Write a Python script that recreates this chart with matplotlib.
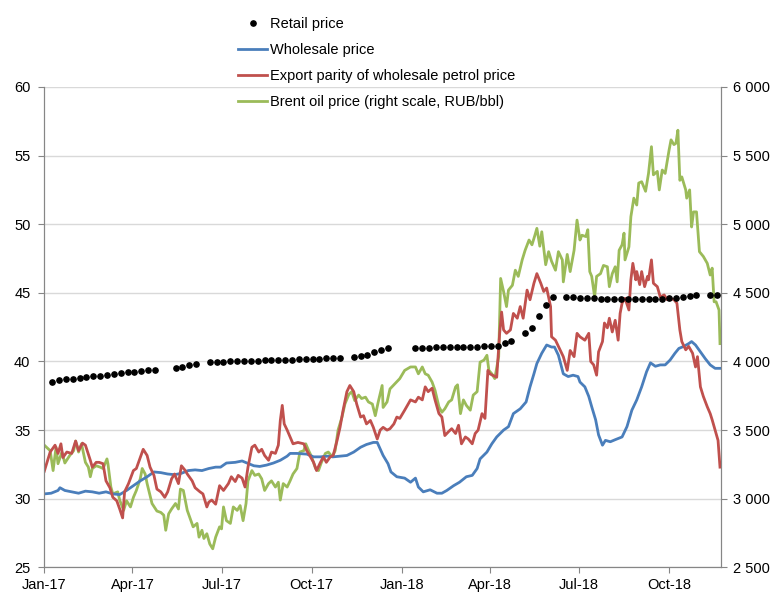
import numpy as np
import pandas as pd
import matplotlib
matplotlib.use("Agg")
import matplotlib.pyplot as plt
import matplotlib.dates as mdates
from matplotlib.ticker import FuncFormatter, MultipleLocator

plt.rcParams['font.family'] = ['Liberation Sans', 'DejaVu Sans']

START = pd.Timestamp('2017-01-01')

# retail price, weekly (None = no observation)
retail_start = '2017-01-09'
retail = [38.50, 38.63, 38.70, 38.75, 38.80, 38.87, 38.92, 38.97, 39.04, 39.09,
          39.14, 39.21, 39.26, 39.31, 39.36, 39.40, None, None, 39.55, 39.62,
          39.72, 39.79, None, 39.96, 39.96, 39.99, 40.01, 40.03, 40.05, 40.05,
          40.07, 40.08, 40.10, 40.10, 40.12, 40.13, 40.15, 40.16, 40.17, 40.19,
          40.22, 40.25, 40.28, None, 40.30, 40.40, 40.50, 40.67, 40.81, 40.96,
          None, None, None, 41.00, 41.01, 41.01, 41.02, 41.03, 41.04, 41.05,
          41.06, 41.07, 41.08, 41.10, 41.12, 41.15, 41.32, 41.49, None, 42.05,
          42.46, 43.31, 44.09, 44.67, None, 44.67, 44.67, 44.65, 44.62, 44.60,
          44.58, 44.55, 44.55, 44.53, 44.53, 44.53, 44.53, 44.55, 44.55, 44.58,
          44.60, 44.65, 44.70, 44.75, 44.82, None, 44.85, 44.87]

# wholesale price (days since 1 Jan 2017, RUB/l)
whole_days = [0, 7, 14, 16, 21, 28, 35, 42, 49, 56, 63, 70, 77, 84, 91, 98, 105,
              112, 119, 126, 133, 140, 147, 154, 161, 168, 175, 180, 186, 195,
              202, 207, 214, 220, 227, 234, 241, 248, 251, 258, 268, 275, 282,
              289, 295, 302, 309, 316, 323, 329, 336, 340, 346, 351, 354, 360,
              368, 374, 379, 382, 387, 394, 401, 406, 411, 418, 424, 431, 437,
              442, 445, 452, 457, 462, 469, 474, 479, 486, 492, 496, 500, 503,
              508, 513, 518, 521, 525, 530, 535, 540, 545, 547, 552, 556, 559,
              563, 566, 570, 573, 578, 583, 590, 595, 600, 605, 610, 615, 619,
              624, 629, 634, 639, 644, 648, 653, 658, 661, 665, 670, 675, 680,
              685, 690]
whole = [30.35, 30.4, 30.6, 30.8, 30.6, 30.5, 30.4, 30.55, 30.5, 30.4, 30.5,
         30.35, 30.3, 30.6, 30.95, 31.3, 31.6, 31.95, 31.9, 31.8, 31.75, 31.85,
         32.05, 32.1, 32.05, 32.2, 32.3, 32.3, 32.6, 32.65, 32.75, 32.6, 32.4,
         32.35, 32.45, 32.6, 32.8, 33.1, 33.3, 33.3, 33.25, 33.05, 33.05, 33.1,
         33.05, 33.1, 33.15, 33.4, 33.75, 33.95, 34.1, 34.1, 33.15, 32.55,
         31.95, 31.6, 31.5, 31.2, 31.5, 30.85, 30.5, 30.65, 30.4, 30.4, 30.6,
         30.95, 31.2, 31.6, 31.7, 32.2, 32.9, 33.4, 34.0, 34.5, 35.0, 35.25,
         36.2, 36.55, 37.05, 38.15, 39.1, 39.85, 40.6, 41.2, 41.05, 41.05,
         40.45, 39.1, 38.9, 39.0, 38.9, 38.5, 38.15, 37.45, 36.7, 35.75, 34.65,
         33.9, 34.25, 34.15, 34.3, 34.5, 35.25, 36.45, 37.2, 38.15, 39.25, 39.9,
         39.65, 39.75, 39.75, 40.1, 40.6, 40.95, 41.1, 41.3, 41.45, 41.2, 40.7,
         40.2, 39.75, 39.5, 39.5]

# export parity of wholesale petrol price
export_days = [0, 6, 11, 14, 17, 19, 23, 28, 32, 35, 39, 42, 47, 49, 53, 56, 60,
               63, 67, 70, 74, 77, 80, 82, 86, 91, 94, 98, 101, 105, 108, 112,
               115, 119, 123, 126, 130, 133, 137, 140, 144, 146, 151, 154, 159,
               162, 166, 168, 171, 175, 179, 183, 188, 191, 195, 198, 202, 205,
               208, 212, 215, 219, 222, 225, 229, 232, 236, 239, 241, 243, 245,
               248, 251, 254, 259, 265, 268, 271, 275, 278, 282, 285, 288, 292,
               295, 299, 302, 305, 309, 312, 316, 319, 323, 326, 329, 333, 336,
               340, 343, 346, 350, 353, 357, 360, 363, 368, 374, 379, 382, 386,
               389, 392, 396, 399, 403, 406, 409, 413, 416, 420, 423, 426, 430,
               433, 437, 440, 443, 447, 450, 453, 455, 459, 462, 465, 467, 469,
               472, 476, 479, 483, 486, 489, 493, 496, 500, 503, 507, 510, 513,
               517, 518, 522, 527, 530, 534, 537, 541, 544, 547, 552, 556, 558,
               561, 564, 566, 570, 572, 575, 577, 580, 583, 586, 588, 590, 593,
               597, 599, 601, 604, 605, 608, 610, 613, 616, 617, 620, 622, 626,
               629, 633, 636, 639, 643, 646, 649, 651, 655, 658, 662, 665, 667,
               670, 673, 677, 680, 682, 685, 688, 690]
export = [32.0, 33.4, 33.9, 33.3, 34.0, 33.0, 33.4, 33.3, 34.2, 33.5, 34.05,
          33.9, 32.8, 32.3, 32.65, 32.65, 32.55, 31.3, 30.8, 30.1, 29.85, 29.25,
          28.6, 30.5, 31.1, 32.05, 32.2, 33.0, 33.6, 33.15, 32.3, 31.7, 30.7,
          30.5, 30.1, 30.5, 31.45, 31.8, 31.1, 32.4, 32.05, 31.8, 31.3, 30.8,
          30.5, 30.35, 29.4, 29.75, 29.9, 29.6, 30.95, 30.6, 31.1, 31.6, 31.25,
          31.7, 31.5, 30.85, 32.3, 33.75, 33.9, 33.4, 33.6, 33.15, 32.8, 33.4,
          33.3, 33.9, 35.7, 36.8, 35.45, 35.0, 34.5, 34.0, 34.1, 34.0, 33.5,
          33.15, 32.65, 32.05, 32.65, 33.05, 32.65, 33.05, 33.15, 34.25, 35.2,
          36.4, 37.8, 38.25, 37.8, 36.9, 35.95, 36.05, 35.45, 35.7, 35.2, 34.35,
          35.0, 35.2, 35.0, 35.1, 35.45, 35.95, 35.85, 36.45, 37.2, 37.05, 37.4,
          37.2, 38.15, 37.8, 38.05, 37.2, 36.2, 35.95, 34.6, 34.9, 35.1, 34.75,
          35.35, 34.0, 34.5, 34.35, 34.0, 34.75, 35.0, 36.2, 35.85, 39.35, 39.1,
          38.95, 38.85, 42.05, 43.6, 42.3, 42.05, 42.3, 43.5, 43.15, 44.0, 43.15,
          45.2, 44.5, 45.7, 46.4, 45.7, 45.1, 45.35, 44.0, 41.8, 41.55, 40.8,
          40.35, 39.35, 40.8, 40.35, 42.05, 41.8, 41.55, 42.05, 40.0, 39.75,
          39.0, 40.7, 41.45, 42.8, 42.45, 43.15, 42.15, 43.0, 41.55, 43.5, 44.25,
          44.6, 43.75, 45.95, 47.15, 45.95, 46.55, 45.6, 46.55, 45.45, 46.2,
          45.95, 47.4, 45.7, 45.45, 44.7, 44.85, 44.5, 44.6, 44.5, 44.25, 42.3,
          41.45, 40.85, 41.1, 40.6, 39.6, 40.35, 38.15, 37.45, 36.7, 36.2, 35.75,
          35.0, 34.25, 32.3]

# Brent, RUB/bbl (right scale)
brent_days = [0, 6, 9, 12, 14, 18, 21, 26, 30, 32, 35, 38, 42, 45, 47, 49, 53,
              57, 60, 64, 65, 68, 70, 75, 77, 81, 84, 88, 91, 94, 98, 100, 103,
              105, 110, 115, 119, 122, 124, 127, 130, 134, 137, 139, 142, 146,
              149, 152, 156, 158, 161, 163, 166, 169, 172, 175, 179, 181, 183,
              186, 190, 193, 197, 200, 203, 206, 208, 212, 215, 219, 222, 225,
              229, 232, 236, 239, 241, 244, 248, 251, 254, 258, 261, 265, 267,
              270, 273, 277, 280, 283, 287, 290, 294, 297, 300, 304, 307, 311,
              314, 317, 321, 324, 328, 331, 335, 338, 341, 345, 346, 350, 353,
              363, 368, 374, 379, 382, 386, 389, 392, 396, 399, 403, 406, 409,
              413, 416, 420, 422, 425, 428, 431, 435, 438, 442, 445, 449, 452,
              454, 457, 460, 464, 466, 469, 472, 474, 478, 481, 484, 488, 491,
              495, 498, 501, 503, 506, 508, 512, 515, 518, 522, 525, 529, 530,
              534, 537, 541, 544, 547, 549, 553, 555, 557, 559, 562, 564, 568,
              571, 575, 577, 580, 583, 585, 587, 590, 592, 593, 597, 599, 602,
              605, 607, 610, 614, 617, 620, 622, 626, 628, 631, 634, 638, 640,
              643, 645, 647, 649, 651, 655, 656, 659, 661, 663, 666, 669, 673,
              677, 680, 682, 684, 686, 689, 690]
brent = [3390, 3350, 3205, 3375, 3255, 3340, 3260, 3315, 3350, 3420, 3340, 3400,
         3265, 3230, 3160, 3220, 3240, 3230, 3220, 3290, 3255, 3085, 3035, 3050,
         2990, 2915, 2985, 2940, 3010, 3060, 3145, 3220, 3180, 3110, 2965, 2910,
         2900, 2880, 2770, 2890, 2925, 2965, 2925, 3070, 3060, 2915, 2855, 2795,
         2820, 2720, 2770, 2710, 2745, 2670, 2635, 2720, 2795, 2780, 2940, 2840,
         2820, 2940, 2915, 2950, 2840, 2965, 3130, 3205, 3170, 3180, 3145, 3060,
         3110, 3130, 3085, 3120, 2990, 3110, 3085, 3130, 3180, 3220, 3340, 3350,
         3400, 3350, 3305, 3220, 3205, 3265, 3330, 3340, 3305, 3350, 3500, 3595,
         3690, 3760, 3780, 3715, 3755, 3730, 3740, 3705, 3690, 3605, 3705, 3825,
         3665, 3705, 3800, 3875, 3935, 3960, 3960, 3910, 3960, 3910, 3900, 3850,
         3790, 3670, 3630, 3655, 3705, 3720, 3815, 3830, 3620, 3720, 3680, 3645,
         3755, 3780, 3995, 4010, 4045, 3935, 3910, 3875, 4035, 4605, 4510, 4400,
         4520, 4555, 4665, 4620, 4740, 4810, 4885, 4850, 4920, 4970, 4840, 4945,
         4705, 4800, 4730, 4665, 4800, 4740, 4580, 4780, 4655, 4810, 5030, 4885,
         4920, 4910, 4960, 4655, 4620, 4470, 4620, 4640, 4700, 4690, 4545, 4640,
         4690, 4580, 4810, 4850, 4935, 4740, 4835, 5055, 5190, 5140, 5300, 5310,
         5240, 5370, 5565, 5360, 5385, 5250, 5395, 5370, 5540, 5615, 5580, 5590,
         5685, 5320, 5345, 5250, 5190, 5250, 4980, 5090, 5090, 4800, 4765, 4715,
         4630, 4680, 4435, 4435, 4375, 4130]

fig = plt.figure(figsize=(7.77, 5.93), dpi=100)
ax = fig.add_axes([0.057, 0.0433, 0.8709, 0.81])
ax2 = ax.twinx()
# left-axis series (with the retail dots) drawn above the Brent line
ax.set_zorder(ax2.get_zorder() + 1)
ax.patch.set_visible(False)

def to_dates(days):
    return START + pd.to_timedelta(days, unit='D')

retail_dates = pd.date_range(retail_start, periods=len(retail), freq='7D')
retail_vals = np.array([np.nan if v is None else v for v in retail])

h1, = ax.plot(retail_dates, retail_vals, 'o', color='black', markersize=3.8,
              linestyle='none', label='Retail price', zorder=4)
h2, = ax.plot(to_dates(whole_days), whole, color='#4A7EBB', lw=2.0,
              label='Wholesale price')
h3, = ax.plot(to_dates(export_days), export, color='#C0504D', lw=2.0,
              label='Export parity of wholesale petrol price')
h4, = ax2.plot(to_dates(brent_days), brent, color='#9BBB59', lw=2.0,
               label='Brent oil price (right scale, RUB/bbl)')

ax.set_ylim(25, 60)
ax2.set_ylim(2500, 6000)
ax.yaxis.set_major_locator(MultipleLocator(5))
ax2.yaxis.set_major_locator(MultipleLocator(500))
ax2.yaxis.set_major_formatter(FuncFormatter(lambda v, p: f"{int(v):,}".replace(",", " ")))

ax.set_xlim(pd.Timestamp('2017-01-01'), pd.Timestamp('2018-11-23'))
ax.xaxis.set_major_locator(mdates.MonthLocator(bymonth=[1, 4, 7, 10]))
ax.xaxis.set_major_formatter(mdates.DateFormatter('%b-%y'))

# gridlines sit on the lower (right) axes so they stay under every line
ax2.grid(axis='y', color='#d9d9d9', lw=1.0)
ax2.set_axisbelow(True)

spine_col = '#868686'
for a in (ax, ax2):
    a.spines['top'].set_visible(False)
    for s in ('left', 'right', 'bottom'):
        a.spines[s].set_color(spine_col)
ax.tick_params(axis='both', direction='out', length=4, color=spine_col,
               labelsize=10.5, labelcolor='black')
ax.tick_params(axis='y', pad=6)
ax.tick_params(axis='x', pad=4)
ax2.tick_params(axis='y', direction='out', length=4, color=spine_col,
                labelsize=10.5, pad=5)

fig.legend(handles=[h1, h2, h3, h4], loc='upper left',
           bbox_to_anchor=(0.3067, 0.971), frameon=False, fontsize=10.5,
           borderpad=0, borderaxespad=0, handlelength=1.95, handletextpad=0.2,
           labelspacing=0.82, numpoints=1)

fig.savefig('out.png', dpi=100)
